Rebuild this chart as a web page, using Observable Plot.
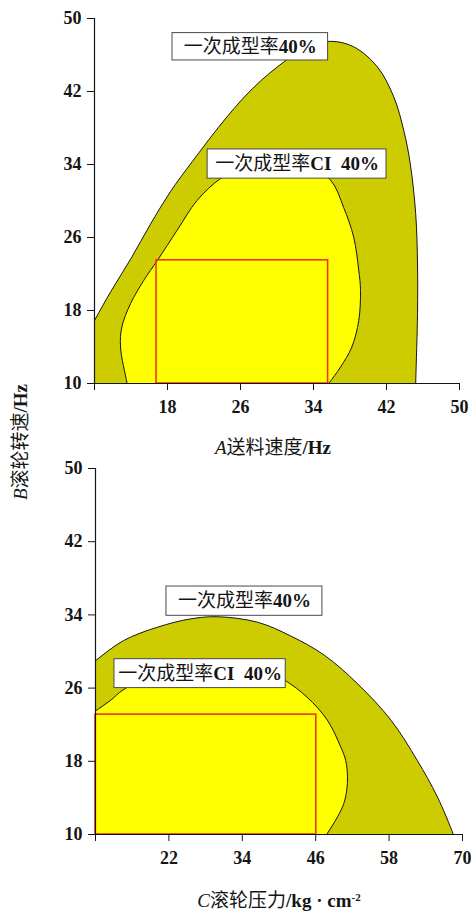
<!DOCTYPE html>
<html>
<head>
<meta charset="utf-8">
<script src="https://cdn.jsdelivr.net/npm/d3@7"></script>
<script src="https://cdn.jsdelivr.net/npm/@observablehq/plot@0.6"></script>
<style>
  body { margin: 0; background: #fff; }
  #chart svg { display: block; }
</style>
</head>
<body>
<div id="chart"></div>
<script>
// Tick values
const ticksA = [10, 18, 26, 34, 42, 50];   // A feed speed / Hz
const ticksB = [10, 18, 26, 34, 42, 50];   // B roller speed / Hz
const ticksC = [10, 22, 34, 46, 58, 70];   // C roller pressure / kg·cm-2

// A–B plane: 40% first-pass yield contour (first and last two points sit outside the frame
// so the filled region closes below / left of the axes, where it is clipped)
const outerAB_x = [6.5, 6.5, 10, 11.8, 14, 16.1, 18.3, 20.7, 24.5, 27.5, 30.7, 33.3, 35.9, 38.4, 41.0, 42.8, 43.9, 44.6, 45.2, 45.4, 45.4, 45.2, 45.1];
const outerAB_y = [5, 10.3, 16.9, 20.1, 23.7, 27.4, 31.0, 34.3, 39.2, 42.5, 45.2, 46.9, 47.5, 46.9, 44.7, 41.4, 37.7, 34.1, 28.6, 23.1, 17.7, 10, 5];
// A–B plane: 40% confidence-interval contour
const innerAB_x = [13.93, 13.93, 13.57, 12.85, 13.0, 13.95, 15.4, 16.9, 19.06, 21.25, 23.8, 27, 30.5, 33.3, 35.9, 37.3, 38.4, 38.96, 39.15, 38.96, 38.2, 36.96, 35.67, 34.8, 34.8];
const innerAB_y = [5, 8, 10, 14.0, 16.2, 18.75, 21.3, 23.5, 26.8, 30.07, 32.45, 34.1, 34.6, 34.0, 32.26, 29.3, 26.05, 22.4, 20.2, 16.9, 14.0, 11.8, 10, 8.8, 5];
// A–B plane: chosen operating window
const designAB_x = [16.8, 35.6];
const designAB_y = [10, 23.5];
// A–B plane: contour labels and their boxes
const labelAB_text = ["一次成型率40%", "一次成型率CI  40%"];
const labelAB_x1 = [18.55, 22.4];
const labelAB_x2 = [35.6, 42.0];
const labelAB_y1 = [45.4, 32.45];
const labelAB_y2 = [48.4, 35.65];

// C–B plane: 40% first-pass yield contour
const outerCB_x = [7, 7, 10, 14.6, 20.1, 25.5, 29.9, 36.5, 41.9, 47.4, 52.8, 58.3, 62.6, 65.9, 68.5, 69.2, 69.2];
const outerCB_y = [5, 27.4, 29.0, 31.2, 32.65, 33.56, 33.8, 33.2, 31.7, 29.6, 26.5, 22.5, 18.1, 14.1, 10, 8.5, 5];
// C–B plane: 40% confidence-interval contour
const innerCB_x = [7.5, 7.5, 10, 12.45, 14.5, 20, 27, 34, 38.5, 41.1, 44.6, 47.9, 50.1, 50.9, 51.2, 51.07, 50.6, 49.55, 47.8, 46.8, 46.8];
const innerCB_y = [5, 22.3, 23.5, 24.65, 25.8, 27.6, 28.5, 28.3, 27.7, 26.8, 25.0, 22.5, 19.56, 18.1, 16.3, 14.84, 13.4, 11.9, 10, 8.9, 5];
// C–B plane: chosen operating window
const designCB_x = [10, 46.1];
const designCB_y = [10, 23.1];
// C–B plane: contour labels and their boxes
const labelCB_text = ["一次成型率40%", "一次成型率CI  40%"];
const labelCB_x1 = [21.6, 13.1];
const labelCB_x2 = [47.1, 41.1];
const labelCB_y1 = [33.9, 26.0];
const labelCB_y2 = [37.1, 29.16];

// Axis titles: [italic variable letter, rest, optional superscript]
const xTitleA = ["A", "送料速度/Hz"];
const yTitleB = ["B", "滚轮转速/Hz"];
const xTitleC = ["C", "滚轮压力/kg · cm", "-2"];

const OLIVE = "#cccc00";
const YELLOW = "#ffff00";
const RED = "#f0361c";
const INK = "#151515";
const SERIF = "'Liberation Serif', 'Times New Roman', serif";
const CJK = "'Noto Sans CJK SC', sans-serif";

const pts = (xs, ys) => xs.map((x, i) => ({x, y: ys[i]}));
const boxes = (t, x1, x2, y1, y2) => t.map((text, i) => ({text, x1: x1[i], x2: x2[i], y1: y1[i], y2: y2[i]}));

const tickText = {fontSize: 18, fontWeight: "bold", fontFamily: SERIF, fill: INK};

function panel(o) {
  return Plot.plot({
    width: 471,
    height: o.height,
    marginTop: o.mt, marginBottom: o.mb, marginLeft: o.ml, marginRight: o.mr,
    x: {domain: o.xDomain},
    y: {domain: [10, 50]},
    style: {fontFamily: SERIF, fontSize: "18px", fontWeight: "bold", color: INK, background: "transparent", overflow: "visible"},
    marks: [
      Plot.line(o.outer, {x: "x", y: "y", curve: "catmull-rom", fill: OLIVE, stroke: INK, strokeWidth: 1, clip: true}),
      Plot.line(o.inner, {x: "x", y: "y", curve: "catmull-rom", fill: YELLOW, stroke: INK, strokeWidth: 1, clip: true}),
      Plot.rect([0], {x1: o.design.x[0], x2: o.design.x[1], y1: o.design.y[0], y2: o.design.y[1], fill: "none", stroke: RED, strokeWidth: 1.6}),
      Plot.ruleX([o.xDomain[0]], {stroke: INK, strokeWidth: 1.2}),
      Plot.ruleY([10], {stroke: INK, strokeWidth: 1.2}),
      Plot.axisY({ticks: ticksB, tickSize: 7, tickPadding: 6, label: null, stroke: INK, ...tickText}),
      Plot.axisX({ticks: o.xTicks, tickSize: 7, tickPadding: 10, label: null, stroke: INK, ...tickText,
                  tickFormat: d => d === o.xDomain[0] ? "" : String(d)}),
      Plot.rect(o.labels, {x1: "x1", x2: "x2", y1: "y1", y2: "y2", fill: "white", stroke: "#4a4a4a", strokeWidth: 1}),
      Plot.text(o.labels, {x: d => (d.x1 + d.x2) / 2, y: d => (d.y1 + d.y2) / 2, text: "text",
                           fontSize: 19, fill: INK, lineAnchor: "middle"}),
      Plot.text([o.xTitle.join("")], {frameAnchor: "bottom", dx: o.xTitleDx, dy: o.xTitleDy, lineAnchor: "middle",
                                      fontSize: 19, fill: INK}),
      ...(o.yTitle ? [Plot.text([o.yTitle.join("")], {frameAnchor: "bottom-left", dx: -74, dy: 58.5, rotate: -90,
                                      textAnchor: "middle", lineAnchor: "middle", fontSize: 19, fill: INK})] : [])
    ]
  });
}

// Split a label into runs: CJK glyphs in a regular sans face, Latin in bold serif
function fillRuns(sel, str) {
  str.split(/([\u3400-\u9fff]+)/).filter(s => s.length).forEach(s => {
    const cjk = /[\u3400-\u9fff]/.test(s);
    sel.append("tspan")
      .attr("font-family", cjk ? CJK : SERIF)
      .attr("font-weight", cjk ? "normal" : "bold")
      .text(s);
  });
}

function restyle(svg, titles, plainLabels) {
  d3.select(svg).selectAll("text").each(function() {
    const el = d3.select(this);
    const content = this.textContent;
    const title = titles.find(t => t.join("") === content);
    if (title) {
      el.text(null);
      el.append("tspan").attr("font-family", SERIF).attr("font-style", "italic").attr("font-weight", "normal").text(title[0]);
      fillRuns(el, title[1]);
      if (title[2]) {
        el.append("tspan").attr("font-family", SERIF).attr("font-weight", "bold")
          .attr("font-size", "11px").attr("dy", "-0.55em").text(title[2]);
      }
    } else if (plainLabels.includes(content)) {
      el.text(null);
      fillRuns(el, content);
    }
  });
}

const panelAB = panel({
  height: 460, mt: 18, mb: 77, ml: 94, mr: 12,
  xDomain: [10, 50], xTicks: ticksA,
  outer: pts(outerAB_x, outerAB_y),
  inner: pts(innerAB_x, innerAB_y),
  design: {x: designAB_x, y: designAB_y},
  labels: boxes(labelAB_text, labelAB_x1, labelAB_x2, labelAB_y1, labelAB_y2),
  xTitle: xTitleA, xTitleDx: -4, xTitleDy: 64,
  yTitle: yTitleB
});
restyle(panelAB, [xTitleA, yTitleB], labelAB_text);

const panelCB = panel({
  height: 452, mt: 8, mb: 78, ml: 95, mr: 9,
  xDomain: [10, 70], xTicks: ticksC,
  outer: pts(outerCB_x, outerCB_y),
  inner: pts(innerCB_x, innerCB_y),
  design: {x: designCB_x, y: designCB_y},
  labels: boxes(labelCB_text, labelCB_x1, labelCB_x2, labelCB_y1, labelCB_y2),
  xTitle: xTitleC, xTitleDx: 0, xTitleDy: 66,
  yTitle: null
});
restyle(panelCB, [xTitleC], labelCB_text);

document.getElementById("chart").append(panelAB, panelCB);
</script>
</body>
</html>
